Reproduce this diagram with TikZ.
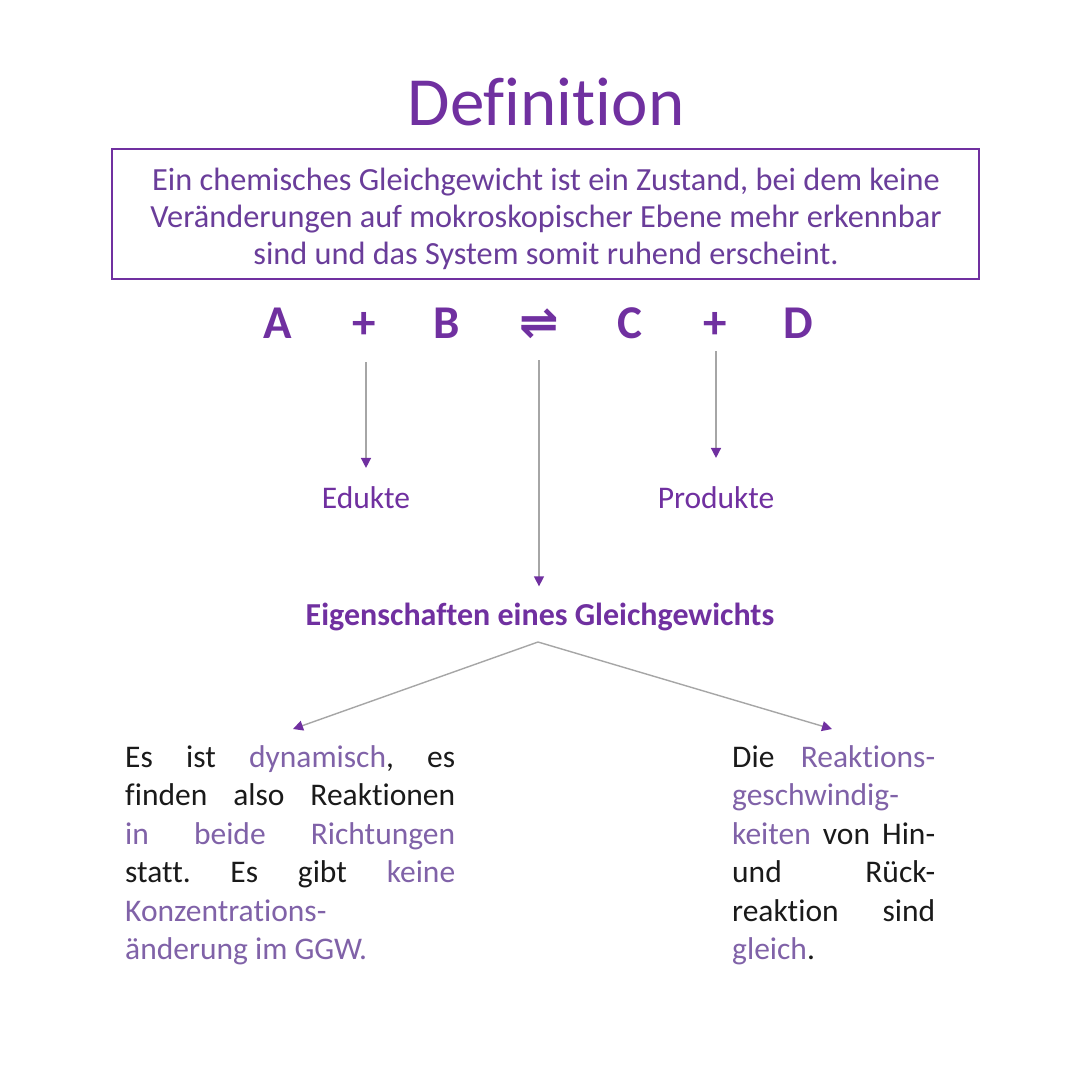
\documentclass[tikz,border=0pt]{standalone}
\usepackage{fontspec}
\setmainfont{Carlito}[Ligatures=NoCommon]
\newfontfamily\symfont{DejaVu Sans}
\usetikzlibrary{arrows.meta}
\frenchspacing
\definecolor{pp}{HTML}{7030A0}
\definecolor{pbox}{HTML}{6A3D9A}
\definecolor{hl}{HTML}{8062A8}
\definecolor{gl}{HTML}{A6A6A6}
\definecolor{tx}{HTML}{1A1A1A}
\tikzset{
  titlestyle/.style={font=\fontsize{69}{84}\selectfont, text=pp, inner sep=0pt, anchor=base},
  boxtxt/.style={font=\fontsize{32.3}{38}\selectfont, text=pbox, inner sep=0pt, anchor=base},
  eqstyle/.style={font=\fontsize{47}{55}\selectfont\bfseries, text=pp, inner sep=0pt, anchor=base},
  lbl/.style={font=\fontsize{31.5}{36}\selectfont, text=pp, inner sep=0pt, anchor=base},
  body/.style={font=\fontsize{31.5}{38}\selectfont, text=tx, inner sep=0pt, anchor=base west},
  arr/.style={draw=gl, line width=1.4pt, -{Triangle[color=pp,length=10pt,width=10pt]}}
}
\begin{document}
\begin{tikzpicture}[x=1pt,y=-1pt]
\useasboundingbox[fill=white] (0,0) rectangle (1080,1080);

\node[titlestyle] (title) at (546,125) {Definition};

\node[draw=pp, line width=2pt, minimum width=867pt, minimum height=130pt, inner sep=0pt] (box) at (545.5,214) {};
\node[boxtxt] (b1) at (546,190) {Ein chemisches Gleichgewicht ist ein Zustand, bei dem keine};
\node[boxtxt] (b2) at (546,227) {Veränderungen auf mokroskopischer Ebene mehr erkennbar};
\node[boxtxt] (b3) at (546,264) {sind und das System somit ruhend erscheint.};

\node[eqstyle] (A) at (278,338) {A};
\node[eqstyle] (p1) at (364,338) {+};
\node[eqstyle] (B) at (447,338) {B};
\node[eqstyle] (eqm) at (539,338) {\symfont ⇌};
\node[eqstyle] (C) at (630,338) {C};
\node[eqstyle] (p2) at (715,338) {+};
\node[eqstyle] (D) at (798,338) {D};

\node[lbl] (ed) at (366,508) {Edukte};
\node[lbl] (pr) at (716,508) {Produkte};
\node[lbl, font=\fontsize{32}{36}\selectfont\bfseries] (eig) at (540,625) {Eigenschaften eines Gleichgewichts};

\draw[arr, shorten <=24pt, shorten >=18pt] (ed.north |- p1.south) -- (ed.north);
\draw[arr, shorten <=13pt, shorten >=28pt] (pr.north |- p2.south) -- (pr.north);
\draw[arr, shorten <=22pt, shorten >=16pt] (eqm.south) -- (eqm.south |- eig.north);

\coordinate (apex) at (538,642);
\coordinate (tl) at (293,729);
\coordinate (tr) at (832,729);
\draw[arr] (apex) -- (tl);
\draw[arr] (apex) -- (tr);

\node[body] (L1) at (125,767) {\makebox[330pt][s]{Es ist \textcolor{hl}{dynamisch}, es}};
\node[body] (L2) at (125,805) {\makebox[330pt][s]{finden also Reaktionen}};
\node[body] (L3) at (125,844) {\makebox[330pt][s]{\textcolor{hl}{in beide Richtungen}}};
\node[body] (L4) at (125,882) {\makebox[330pt][s]{statt. Es gibt \textcolor{hl}{keine}}};
\node[body] (L5) at (125,921) {\textcolor{hl}{Konzentrations-}};
\node[body] (L6) at (125,959) {\textcolor{hl}{änderung im GGW.}};

\node[body] (R1) at (732,767) {\makebox[203pt][s]{Die \textcolor{hl}{Reaktions-}}};
\node[body] (R2) at (732,805) {\textcolor{hl}{geschwindig-}};
\node[body] (R3) at (732,844) {\makebox[203pt][s]{\textcolor{hl}{keiten} von Hin-}};
\node[body] (R4) at (732,882) {\makebox[203pt][s]{und Rück-}};
\node[body] (R5) at (732,921) {\makebox[203pt][s]{reaktion sind}};
\node[body] (R6) at (732,959) {\textcolor{hl}{gleich}.};
\end{tikzpicture}
\end{document}
